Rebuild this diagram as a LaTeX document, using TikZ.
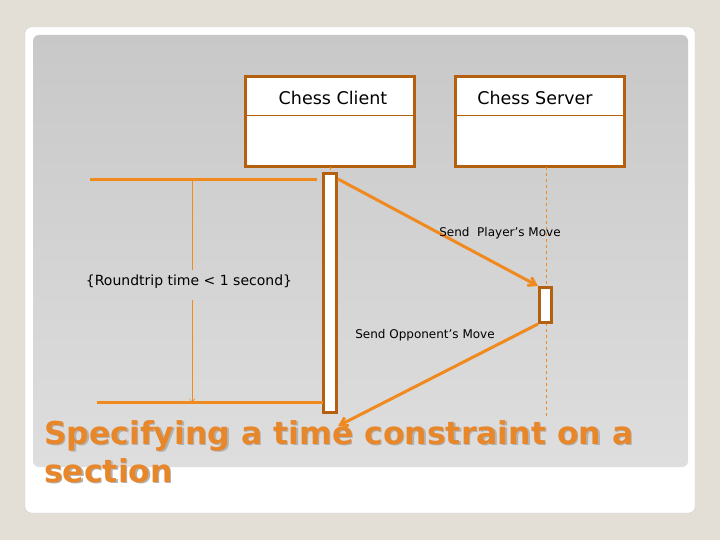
\documentclass[tikz,border=0pt]{standalone}
\usepackage{fontspec}
\setmainfont{DejaVu Sans}
\usetikzlibrary{arrows.meta}
\definecolor{bgpage}{HTML}{E4DFD6}
\definecolor{panel}{HTML}{C8C8C8}
\definecolor{panellight}{HTML}{DEDEDE}
\definecolor{boxline}{HTML}{B4600F}
\definecolor{msg}{HTML}{F08A1E}
\definecolor{title}{HTML}{E8862A}

\begin{document}
\begin{tikzpicture}[x=1pt,y=-1pt]
    \tikzset{objbox/.style={draw=boxline,line width=3pt,fill=white}}
    \tikzset{act/.style={draw=boxline,line width=3pt,fill=white}}
    \tikzset{msgarrow/.style={draw=msg,line width=3pt,-{Straight Barb[length=7pt,width=9pt]}}}
    \tikzset{lifeline/.style={draw=msg,thin,dashed}}
    \tikzset{label/.style={font=\fontsize{12}{14}\selectfont,inner sep=1pt}}

    \useasboundingbox (0,0) rectangle (720,540);
    \fill[bgpage] (0,0) rectangle (720,540);
    \fill[white,draw=gray!40,rounded corners=6pt] (25,27) rectangle (695,513);
    \shade[top color=panel,bottom color=panellight,rounded corners=6pt] (33,35) rectangle (688,467);

    % objects
    \node[objbox,minimum width=169pt,minimum height=90pt] (client) at (329.5,122) {};
    \node[objbox,minimum width=169pt,minimum height=90pt] (server) at (539.5,122) {};
    \draw[boxline,thin] (245,115) -- (414,115);
    \draw[boxline,thin] (455,115) -- (624,115);
    \node[font=\fontsize{17.5}{20}\selectfont] (clientname) at (333,98) {Chess Client};
    \node[font=\fontsize{17.5}{20}\selectfont] (servername) at (535,98) {Chess Server};

    % lifelines
    \coordinate (cltop) at (330,167);
    \coordinate (svtop) at (546,167);
    \coordinate (svbot) at (546,416);
    \draw[lifeline] (cltop) -- (330,173);
    \draw[lifeline] (svtop) -- (svbot);

    % activations
    \node[act,minimum width=13pt,minimum height=239pt,inner sep=0pt] (clact) at (330,293) {};
    \node[act,minimum width=12pt,minimum height=35pt,inner sep=0pt] (svact) at (545.5,305) {};

    % messages
    \draw[msgarrow] (clact.north east) ++(0,7) -- (svact.north west);
    \draw[msgarrow] (svact.south west) -- ([yshift=-12pt]clact.south east);
    \node[label] (m1) at (500,233) {Send\ \ Player’s Move};
    \node[label] (m2) at (425,335) {Send Opponent’s Move};

    % time constraint
    \coordinate (t1a) at (90,180);
    \coordinate (t1b) at (317,180);
    \coordinate (t2a) at (97,402);
    \coordinate (t2b) at (323,402);
    \draw[msg,line width=3pt] (t1a) -- (t1b);
    \draw[msg,line width=3pt] (t2a) -- (t2b);
    \node[label,font=\fontsize{14}{16}\selectfont] (rt) at (189,282) {\{Roundtrip time < 1 second\}};
    \draw[msg,thin] (192,180) -- (192,270);
    \draw[msg,thin,-{Straight Barb[length=3pt]}] (192,300) -- (192,402);

    % title
    \node[anchor=north west,align=left,text=gray!60,font=\fontsize{31.5}{38}\selectfont\bfseries,inner sep=0pt] at (45.5,421.5)
        {Specifying a time constraint on a\\section};
    \node[anchor=north west,align=left,text=title,font=\fontsize{31.5}{38}\selectfont\bfseries,inner sep=0pt] (heading) at (44,420)
        {Specifying a time constraint on a\\section};
\end{tikzpicture}
\end{document}
